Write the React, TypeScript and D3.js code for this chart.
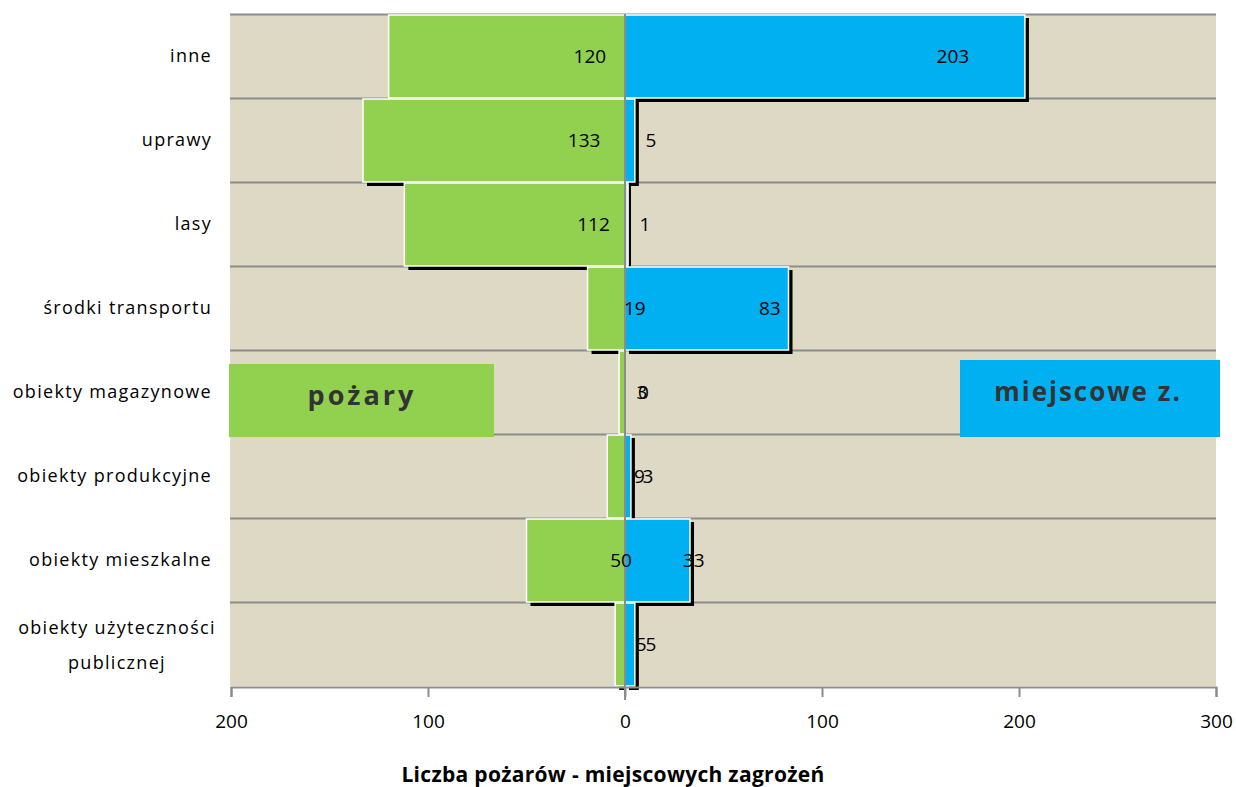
import React, { useEffect, useRef } from 'react';
import * as d3 from 'd3';

const categories = [
  'inne',
  'uprawy',
  'lasy',
  'środki transportu',
  'obiekty magazynowe',
  'obiekty produkcyjne',
  'obiekty mieszkalne',
  'obiekty użyteczności publicznej',
];
const pozary = [120, 133, 112, 19, 3, 9, 50, 5];
const miejscowe = [203, 5, 1, 83, 0, 3, 33, 5];
const xTicks = [-200, -100, 0, 100, 200, 300];

const W = 1236;
const H = 787;
const GREEN = '#92d050';
const BLUE = '#00b0f0';
const FONT = '"Open Sans", "Noto Sans", sans-serif';

const App: React.FC = () => {
  const svgRef = useRef<SVGSVGElement>(null);

  useEffect(() => {
    if (!svgRef.current) return;
    const svg = d3.select(svgRef.current);
    svg.selectAll('*').remove();

    const left = 231;
    const right = 1216;
    const top = 14;
    const bottom = 686;

    const x = d3.scaleLinear().domain([-200, 300]).range([left, right]);
    const y = d3.scaleBand().domain(categories).range([top, bottom]).padding(0);

    // plot background
    svg.append('rect')
      .attr('x', left - 1).attr('y', top)
      .attr('width', right - left + 1).attr('height', bottom - top)
      .attr('fill', '#ded9c4');

    // horizontal grid lines at band edges
    const edges = categories.map(c => y(c) || 0);
    svg.append('g').selectAll('line')
      .data(edges)
      .enter().append('line')
      .attr('x1', left - 1).attr('x2', right)
      .attr('y1', d => d + 0.5).attr('y2', d => d + 0.5)
      .attr('stroke', '#8c8c8c').attr('stroke-width', 2);

    const rows = categories.map((c, i) => ({ c, g: pozary[i], b: miejscowe[i] }));
    const sh = 4;

    // shadows (drawn first, so later bars cover them)
    const shadows = svg.append('g');
    rows.forEach(r => {
      const yy = y(r.c) || 0;
      if (r.g > 0) {
        shadows.append('rect')
          .attr('x', x(-r.g) + sh).attr('y', yy + sh)
          .attr('width', Math.max(0, x(0) - x(-r.g) - sh)).attr('height', y.bandwidth())
          .attr('fill', '#000');
      }
      if (r.b > 0) {
        shadows.append('rect')
          .attr('x', x(0) + sh).attr('y', yy + sh)
          .attr('width', x(r.b) - x(0)).attr('height', y.bandwidth())
          .attr('fill', '#000');
      }
    });

    // bars
    const bars = svg.append('g');
    rows.forEach(r => {
      const yy = y(r.c) || 0;
      if (r.g > 0) {
        bars.append('rect')
          .attr('x', x(-r.g)).attr('y', yy + 1)
          .attr('width', x(0) - x(-r.g)).attr('height', y.bandwidth() - 1)
          .attr('fill', GREEN).attr('stroke', '#fff').attr('stroke-width', 1.5);
      }
      if (r.b > 0) {
        bars.append('rect')
          .attr('x', x(0)).attr('y', yy + 1)
          .attr('width', x(r.b) - x(0)).attr('height', y.bandwidth() - 1)
          .attr('fill', BLUE).attr('stroke', '#fff').attr('stroke-width', 1.5);
      }
    });

    // zero line
    svg.append('line')
      .attr('x1', x(0)).attr('x2', x(0))
      .attr('y1', top).attr('y2', bottom + 14)
      .attr('stroke', '#8c8c8c').attr('stroke-width', 2);

    // value labels
    const labels = svg.append('g')
      .attr('font-family', FONT).attr('font-size', 19).attr('fill', '#000')
      .attr('text-anchor', 'middle');
    rows.forEach(r => {
      const cy = (y(r.c) || 0) + y.bandwidth() / 2 + 7;
      labels.append('text')
        .attr('x', x(9.3 - 0.226 * r.g)).attr('y', cy)
        .text(r.g);
      labels.append('text')
        .attr('x', x(9.3 + 0.774 * r.b)).attr('y', cy)
        .text(r.b);
    });

    // x axis
    const axis = svg.append('g')
      .attr('transform', `translate(0,${bottom + 1})`)
      .call(d3.axisBottom(x).tickValues(xTicks).tickSize(10).tickPadding(18)
        .tickFormat(d => String(Math.abs(+d))));
    axis.select('.domain').attr('stroke', '#8c8c8c').attr('stroke-width', 2);
    axis.selectAll('.tick line').attr('stroke', '#8c8c8c').attr('stroke-width', 2);
    axis.selectAll('.tick text')
      .attr('font-family', FONT).attr('font-size', 19).attr('fill', '#000');

    // category labels
    const cats = svg.append('g')
      .attr('font-family', FONT).attr('font-size', 18).attr('letter-spacing', 1.3)
      .attr('fill', '#000');
    categories.forEach(c => {
      const cy = (y(c) || 0) + y.bandwidth() / 2;
      if (c === 'obiekty użyteczności publicznej') {
        cats.append('text').attr('x', 117).attr('y', cy - 10)
          .attr('text-anchor', 'middle').text('obiekty użyteczności');
        cats.append('text').attr('x', 117).attr('y', cy + 25)
          .attr('text-anchor', 'middle').text('publicznej');
      } else {
        cats.append('text').attr('x', 212).attr('y', cy + 6)
          .attr('text-anchor', 'end').text(c);
      }
    });

    // legend boxes
    svg.append('rect').attr('x', 229).attr('y', 364).attr('width', 265).attr('height', 73)
      .attr('fill', GREEN);
    svg.append('text').attr('x', 362).attr('y', 405).attr('text-anchor', 'middle')
      .attr('font-family', FONT).attr('font-size', 27).attr('font-weight', 'bold')
      .attr('letter-spacing', 3).attr('fill', '#333').text('pożary');
    svg.append('rect').attr('x', 960).attr('y', 360).attr('width', 260).attr('height', 77)
      .attr('fill', BLUE);
    svg.append('text').attr('x', 1088).attr('y', 401).attr('text-anchor', 'middle')
      .attr('font-family', FONT).attr('font-size', 26).attr('font-weight', 'bold')
      .attr('letter-spacing', 2).attr('fill', '#333').text('miejscowe z.');

    // axis title
    svg.append('text').attr('x', 613).attr('y', 782).attr('text-anchor', 'middle')
      .attr('font-family', FONT).attr('font-size', 21).attr('font-weight', 'bold')
      .attr('letter-spacing', 0.3).attr('fill', '#000')
      .text('Liczba pożarów - miejscowych zagrożeń');
  }, []);

  return (
    <div style={{ position: 'absolute', left: 0, top: 0, width: W, height: H, background: '#fff' }}>
      <svg ref={svgRef} width={W} height={H} />
    </div>
  );
};

export default App;
